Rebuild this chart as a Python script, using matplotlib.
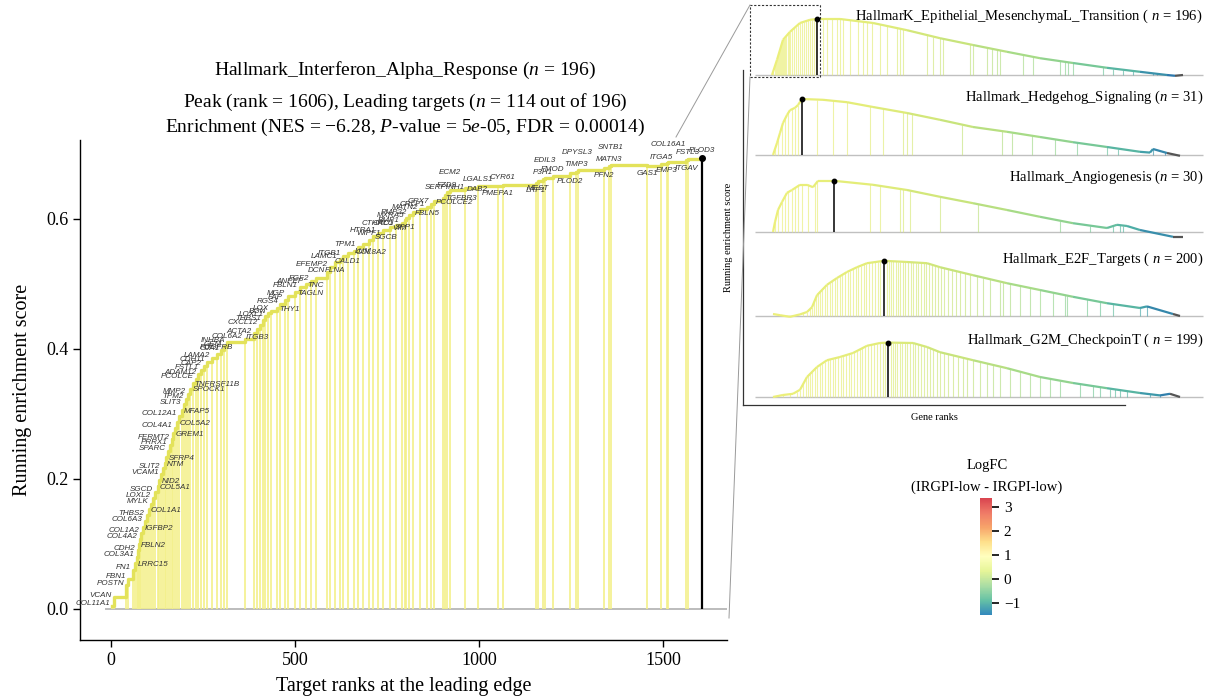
import numpy as np
import matplotlib
matplotlib.use('Agg')
import matplotlib.pyplot as plt
from matplotlib.collections import LineCollection
from matplotlib.colors import LinearSegmentedColormap, Normalize
from matplotlib.cm import ScalarMappable
from matplotlib.lines import Line2D
from matplotlib.patches import Rectangle

plt.rcParams['font.family'] = ['Liberation Serif', 'DejaVu Serif']
plt.rcParams['mathtext.fontset'] = 'custom'
plt.rcParams['mathtext.rm'] = 'Liberation Serif'
plt.rcParams['mathtext.it'] = 'Liberation Serif:italic'

# ---------------- main panel data (leading-edge genes) ----------------
genes = ['COL11A1', 'VCAN', 'POSTN', 'FBN1', 'FN1', 'LRRC15', 'COL3A1', 'CDH2', 'FBLN2', 'COL4A2',
         'COL1A2', 'IGFBP2', 'COL6A3', 'THBS2', 'COL1A1', 'MYLK', 'LOXL2', 'SGCD', 'COL5A1', 'NID2',
         'VCAM1', 'SLIT2', 'NTM', 'SFRP4', 'SPARC', 'PRRX1', 'FERMT2', 'GREM1', 'COL4A1', 'COL5A2',
         'COL12A1', 'MFAP5', 'SLIT3', 'TPM2', 'MMP2', 'SPOCK1', 'TNFRSF11B', 'PCOLCE', 'ADAM12', 'FSTL1',
         'CAP2', 'CDH11', 'LAMA2', 'PDGFRB', 'GJA1', 'GEM', 'INHBA', 'COL6A2', 'ACTA2', 'ITGB3',
         'CXCL12', 'THBS1', 'LOXL1', 'BGN', 'LOX', 'THY1', 'RGS4', 'FAP', 'MGP', 'TAGLN',
         'FBLN1', 'ANPEP', 'FGF2', 'TNC', 'DCN', 'EFEMP2', 'FLNA', 'LAMC1', 'ITGB1', 'CALD1',
         'COL8A2', 'TPM1', 'LUM', 'WIPF1', 'SGCB', 'HTRA1', 'CALU', 'VIM', 'CTHRC1', 'BMP1',
         'SPP1', 'MXRA5', 'PMP22', 'FBLN5', 'MATN2', 'CRLF1', 'GPX7', 'PCOLCE2', 'TGFBR3', 'SERPINH1',
         'FZD8', 'ECM2', 'DAB2', 'LGALS1', 'PMEPA1', 'CYR61', 'LRP1', 'MEST', 'P3H1', 'EDIL3',
         'FMOD', 'PLOD2', 'TIMP3', 'DPYSL3', 'PFN2', 'MATN3', 'SNTB1', 'GAS1', 'ITGA5', 'EMP3',
         'COL16A1', 'ITGAV', 'FSTL3', 'PLOD3']
gene_ranks = [3, 8, 42, 46, 60, 66, 70, 73, 76, 79,
              82, 86, 92, 97, 103, 109, 114, 120, 127, 132,
              137, 141, 146, 151, 156, 160, 165, 169, 174, 180,
              186, 193, 198, 203, 209, 216, 222, 230, 237, 244,
              252, 261, 275, 288, 300, 308, 315, 364, 389, 397,
              405, 413, 420, 428, 435, 451, 460, 473, 480, 500,
              514, 530, 545, 557, 587, 595, 609, 622, 630, 644,
              660, 671, 685, 701, 712, 726, 740, 758, 775, 790,
              799, 802, 810, 821, 840, 859, 870, 878, 902, 907,
              913, 921, 962, 997, 1052, 1065, 1155, 1160, 1174, 1180,
              1201, 1247, 1264, 1268, 1340, 1353, 1358, 1457, 1495, 1511,
              1515, 1563, 1568, 1606]
gene_es = [0.005, 0.018, 0.036, 0.046, 0.060, 0.070, 0.080, 0.090, 0.099, 0.108,
           0.117, 0.126, 0.135, 0.144, 0.153, 0.162, 0.171, 0.180, 0.189, 0.198,
           0.207, 0.216, 0.225, 0.234, 0.243, 0.252, 0.261, 0.270, 0.279, 0.288,
           0.297, 0.306, 0.315, 0.323, 0.331, 0.339, 0.347, 0.354, 0.361, 0.368,
           0.374, 0.380, 0.386, 0.392, 0.398, 0.404, 0.410, 0.416, 0.424, 0.430,
           0.437, 0.444, 0.450, 0.455, 0.459, 0.463, 0.469, 0.476, 0.482, 0.488,
           0.495, 0.500, 0.505, 0.509, 0.518, 0.526, 0.533, 0.539, 0.543, 0.547,
           0.551, 0.557, 0.562, 0.567, 0.573, 0.579, 0.583, 0.587, 0.590, 0.594,
           0.598, 0.602, 0.606, 0.611, 0.615, 0.619, 0.623, 0.627, 0.633, 0.637,
           0.641, 0.645, 0.648, 0.650, 0.651, 0.653, 0.655, 0.658, 0.661, 0.663,
           0.666, 0.670, 0.673, 0.676, 0.678, 0.681, 0.683, 0.681, 0.684, 0.686,
           0.688, 0.690, 0.692, 0.694]
peak_rank = 1606
peak_es = 0.694

main_xticks = [0, 500, 1000, 1500]
main_yticks = [0.0, 0.2, 0.4, 0.6]

# ---------------- mini panels data ----------------
emt_title = r'HallmarK_Epithelial_MesenchymaL_Transition ( $n$ = 196)'
emt_curve_rank = [475, 600, 750, 925, 1175, 1425, 1606, 2175, 3000, 3850, 4675, 5500,
                  6350, 7175, 8000, 8850, 9675, 10350, 10550, 10750]
emt_curve_es = [0.0, 0.19, 0.44, 0.54, 0.65, 0.69, 0.70, 0.70, 0.65, 0.56, 0.46, 0.375,
                0.29, 0.21, 0.15, 0.09, 0.04, 0.0, -0.01, 0.0]
emt_hits = [475, 500, 550, 575, 600, 625, 650, 675, 700, 725, 750, 775, 800, 825, 875, 900,
            925, 975, 1025, 1075, 1125, 1175, 1225, 1275, 1325, 1375, 1425, 1475, 1525, 1575,
            1750, 1850, 1975, 2100, 2175, 2250, 2425, 2625, 2750, 2850, 2975, 3175, 3350, 3600,
            3675, 3750, 4350, 4500, 4675, 4750, 5425, 5500, 5850, 5975, 6100, 6175, 6750, 7000,
            7675, 7800, 7875, 8000, 8750, 9000, 9250, 9500, 10000, 10100, 10425]
emt_peak = 1606

hh_title = r'Hallmark_Hedgehog_Signaling ($n$ = 31)'
hh_curve_rank = [500, 600, 675, 750, 850, 925, 1050, 1125, 1225, 1750, 2350, 3000, 3850,
                 4675, 5500, 6350, 7175, 8000, 8850, 9675, 9925, 10000, 10350, 10675]
hh_curve_es = [0.0, 0.15, 0.275, 0.40, 0.50, 0.56, 0.59, 0.625, 0.70, 0.69, 0.66, 0.60, 0.525,
               0.44, 0.35, 0.29, 0.225, 0.16, 0.10, 0.04, 0.03, 0.075, 0.025, -0.01]
hh_hits = [550, 625, 725, 800, 875, 975, 1050, 1125, 1600, 2000, 2350, 2925, 3250, 3750,
           3850, 3975, 5225, 6225, 6475, 6975, 7550, 8100, 8850, 9125, 10000, 10300]
hh_peak = 1225

ang_title = r'Hallmark_Angiogenesis ($n$ = 30)'
ang_curve_rank = [500, 550, 625, 725, 850, 975, 1175, 1350, 1500, 1625, 2025, 3000, 3850,
                  4675, 5500, 6350, 7175, 8000, 8850, 9100, 9350, 9675, 10500, 10750]
ang_curve_es = [0.0, 0.125, 0.275, 0.375, 0.49, 0.525, 0.59, 0.59, 0.56, 0.64, 0.64, 0.59,
                0.525, 0.44, 0.36, 0.275, 0.19, 0.11, 0.05, 0.09, 0.075, 0.025, -0.06, -0.06]
ang_hits = [550, 625, 725, 800, 875, 975, 1050, 1125, 1225, 1375, 1550, 1600, 2925, 3175,
            3675, 3750, 3925, 4675, 5625, 7675, 8425, 9000, 9175, 9250]
ang_peak = 2025

e2f_title = r'Hallmark_E2F_Targets ( $n$ = 200)'
e2f_curve_rank = [500, 675, 925, 1175, 1350, 1475, 1600, 1850, 2100, 2350, 2600, 2850, 3275,
                  3850, 4350, 4675, 5500, 6350, 7175, 8000, 8850, 9675, 9850, 10500, 10675]
e2f_curve_es = [0.025, 0.01, -0.01, 0.02, 0.05, 0.11, 0.26, 0.39, 0.475, 0.55, 0.61, 0.66, 0.69,
                0.675, 0.66, 0.61, 0.51, 0.41, 0.325, 0.24, 0.16, 0.10, 0.12, 0.025, 0.0]
e2f_hits = [925, 1050, 1250, 1350, 1425, 1475, 1525, 1575, 1625, 1675, 1725, 1800, 1850, 1925,
            1975, 2050, 2100, 2175, 2225, 2300, 2375, 2425, 2500, 2575, 2625, 2700, 2775, 2825,
            2900, 2975, 3050, 3125, 3175, 3350, 3400, 3450, 3500, 3575, 3625, 3675, 3750, 3800,
            3875, 3950, 4000, 4075, 4125, 4200, 4275, 4325, 4400, 4475, 4550, 4625, 4700, 4775,
            4875, 4975, 5075, 5175, 5300, 5425, 5600, 5750, 5925, 6175, 6250, 6425, 6675, 6925,
            7175, 7500, 7800, 7850, 8350, 8675, 9000, 9675, 9850]
e2f_peak = 3275

g2m_title = r'Hallmark_G2M_CheckpoinT ( $n$ = 199)'
g2m_curve_rank = [500, 750, 1000, 1175, 1350, 1600, 1850, 2175, 2500, 2850, 3175, 3375, 4000,
                  4350, 4675, 5500, 6350, 7175, 8000, 8850, 9675, 10175, 10425, 10675]
g2m_curve_es = [0.0, 0.025, 0.04, 0.09, 0.25, 0.375, 0.46, 0.50, 0.55, 0.64, 0.675, 0.68, 0.675,
                0.625, 0.56, 0.46, 0.36, 0.25, 0.175, 0.11, 0.05, 0.02, 0.04, 0.0]
g2m_hits = [750, 925, 1100, 1175, 1250, 1325, 1375, 1425, 1475, 1550, 1600, 1675, 1725, 1800,
            1875, 1925, 2000, 2050, 2125, 2200, 2250, 2325, 2400, 2450, 2525, 2600, 2675, 2725,
            2800, 2875, 2950, 3025, 3100, 3175, 3250, 3300, 3450, 3500, 3550, 3600, 3675, 3725,
            3800, 3850, 3925, 4000, 4050, 4125, 4200, 4275, 4350, 4425, 4500, 4600, 4675, 4775,
            4875, 5000, 5125, 5250, 5350, 5500, 5675, 5850, 6000, 6175, 6425, 6675, 6925, 7175,
            7425, 7675, 8175, 8500, 8675, 8925, 9050, 9175, 9350, 9925, 10175]
g2m_peak = 3375

cbar_ticks = [-1, 0, 1, 2, 3]
cbar_labels = ['\u22121', '0', '1', '2', '3']
cbar_min, cbar_max = -1.5, 3.375

# ---------------- label placement (style) ----------------
label_side = ("LLLLLRLLRLLRLLRLLLRRLLRRLLLRLRLRLLLRRLLL"
              "LLLALLLLLBLLLLLRLLLRLLLBLLBLLBRLBARLARLL"
              "BLLRLLLRRAAURABABBAUABAUBAUBABUBAA")

W, H = 1214, 699
fig = plt.figure(figsize=(W / 100, H / 100), dpi=100)

# ---------------- main axes ----------------
ax = fig.add_axes([80 / W, 1 - 640 / H, (727 - 80) / W, (640 - 140) / H])
ax.set_xlim(-84, 1674)
ax.set_ylim(-0.048, 0.7215)
line_col = '#f3f08a'
curve_col = '#e3e25a'
ax.hlines(0, -16, 1674, color='#b0b0b0', lw=1.2, zorder=1)
ax.vlines(gene_ranks[:-1], 0, gene_es[:-1], color=line_col, lw=1.2, zorder=2)
ax.step(gene_ranks, gene_es, where='post', color=curve_col, lw=2.4, zorder=3)
ax.vlines(peak_rank, 0, peak_es, color='black', lw=1.6, zorder=4)
ax.plot([peak_rank], [peak_es], 'o', color='black', ms=4, zorder=5)

offs = {'L': ((-1.5, 1.5), 'right', 'center'),
        'R': ((1.5, -1.0), 'left', 'center'),
        'A': ((0, 2.5), 'center', 'bottom'),
        'U': ((0, 10), 'center', 'bottom'),
        'B': ((0, -3), 'center', 'top')}
for g, r, e, s in zip(genes, gene_ranks, gene_es, label_side):
    (dx, dy), ha, va = offs[s]
    ax.annotate(g, (r, e), xytext=(dx, dy), textcoords='offset points', ha=ha, va=va,
                fontsize=5.8, family='Liberation Sans', style='italic', color='#333333', zorder=6)

for sp in ['top', 'right']:
    ax.spines[sp].set_visible(False)
for sp in ['left', 'bottom']:
    ax.spines[sp].set_linewidth(1.0)
ax.set_xticks(main_xticks)
ax.set_yticks(main_yticks)
ax.set_yticklabels(['0.0', '0.2', '0.4', '0.6'])
ax.tick_params(direction='out', length=5, width=1, labelsize=13)
ax.set_xlabel('Target ranks at the leading edge', fontsize=14.5, labelpad=6)
ax.set_ylabel('Running enrichment score', fontsize=14.5, labelpad=10)

cx = 405 / W
fig.text(cx, 1 - 70 / H, r'Hallmark_Interferon_Alpha_Response ($n$ = 196)', ha='center', va='center', fontsize=14)
fig.text(cx, 1 - 102 / H, r'Peak (rank = 1606), Leading targets ($n$ = 114 out of 196)', ha='center', va='center', fontsize=14)
fig.text(cx, 1 - 127 / H, r'Enrichment (NES = $-$6.28, $P$-value = 5$e$-05, FDR = 0.00014)', ha='center', va='center', fontsize=14)

# ---------------- mini panels frame ----------------
fax = fig.add_axes([743 / W, 1 - 405 / H, (1125 - 743) / W, (405 - 70) / H])
fax.set_xticks([]); fax.set_yticks([])
fax.patch.set_alpha(0)
for sp in ['top', 'right']:
    fax.spines[sp].set_visible(False)
for sp in ['left', 'bottom']:
    fax.spines[sp].set_linewidth(0.9)
    fax.spines[sp].set_color('#333333')
fax.set_ylabel('Running enrichment score', fontsize=7.5, labelpad=7)
fax.set_xlabel('Gene ranks', fontsize=7.5, labelpad=6)

mini_cmap = LinearSegmentedColormap.from_list('mini', [(0, '#eef07a'), (0.3, '#e2ec78'), (0.5, '#c6e37c'),
                                                       (0.68, '#9fd98a'), (0.83, '#6fc59a'),
                                                       (0.92, '#47a9a8'), (1.0, '#2b75ad')])


def mini_color(r):
    if r > 10500:
        return '#555555'
    return mini_cmap(min(max(r / 10500, 0), 1))


panels = [
    (emt_title, emt_curve_rank, emt_curve_es, emt_hits, emt_peak, 75, 16),
    (hh_title, hh_curve_rank, hh_curve_es, hh_hits, hh_peak, 155, 97),
    (ang_title, ang_curve_rank, ang_curve_es, ang_hits, ang_peak, 232, 177),
    (e2f_title, e2f_curve_rank, e2f_curve_es, e2f_hits, e2f_peak, 316, 259),
    (g2m_title, g2m_curve_rank, g2m_curve_es, g2m_hits, g2m_peak, 397, 340),
]
for title, cr, ce, hits, pk, base, ty in panels:
    pax = fig.add_axes([745 / W, 1 - (base + 8) / H, 465 / W, 80 / H])
    pax.set_xlim(-200, 11425)
    pax.set_ylim(-0.1, 0.9)
    pax.axis('off')
    pax.hlines(0, 50, 11250, color='#c0c0c0', lw=1.0, zorder=1)
    hv = np.interp(hits, cr, ce)
    pax.vlines(hits, 0, hv, colors=[mini_color(h) for h in hits], lw=0.8, alpha=0.65, zorder=2)
    segs = [[(cr[i], ce[i]), (cr[i + 1], ce[i + 1])] for i in range(len(cr) - 1)]
    scol = [mini_color((cr[i] + cr[i + 1]) / 2) for i in range(len(cr) - 1)]
    pax.add_collection(LineCollection(segs, colors=scol, lw=1.6, zorder=3))
    pv = float(np.interp(pk, cr, ce))
    pax.vlines(pk, 0, pv, color='black', lw=1.1, zorder=4)
    pax.plot([pk], [pv], 'o', color='black', ms=3.2, zorder=5)
    pax.text(11250, (base - ty) / 80.0, title, ha='right', va='center', fontsize=10.5)

# zoom rectangle and connectors
fig.add_artist(Rectangle((750 / W, 1 - 77 / H), 70 / W, 72 / H, transform=fig.transFigure,
                         fill=False, ls=(0, (2, 1.5)), lw=0.8, ec='#333333'))
fig.add_artist(Line2D([750 / W, 676 / W], [1 - 5 / H, 1 - 137 / H], transform=fig.transFigure,
                      color='#9a9a9a', lw=0.7))
fig.add_artist(Line2D([750 / W, 729 / W], [1 - 77 / H, 1 - 618 / H], transform=fig.transFigure,
                      color='#9a9a9a', lw=0.7))

# ---------------- colorbar ----------------
spectral9 = LinearSegmentedColormap.from_list(
    'spec9', ['#3288bd', '#66c2a5', '#abdda4', '#e6f598', '#ffffbf', '#fee08b', '#f7a46a', '#ef7a67', '#d9434f'])
cax = fig.add_axes([980 / W, 1 - 615 / H, 12 / W, 117 / H])
sm = ScalarMappable(norm=Normalize(cbar_min, cbar_max), cmap=spectral9)
cb = fig.colorbar(sm, cax=cax, ticks=cbar_ticks)
cb.outline.set_visible(False)
cb.set_ticklabels(cbar_labels)
cax.tick_params(length=5, width=1.2, labelsize=11, color='black')
fig.text(987 / W, 1 - 465 / H, 'LogFC', ha='center', va='center', fontsize=10.5)
fig.text(987 / W, 1 - 487 / H, '(IRGPI-low - IRGPI-low)', ha='center', va='center', fontsize=10.5)

fig.savefig('out.png', dpi=100)
